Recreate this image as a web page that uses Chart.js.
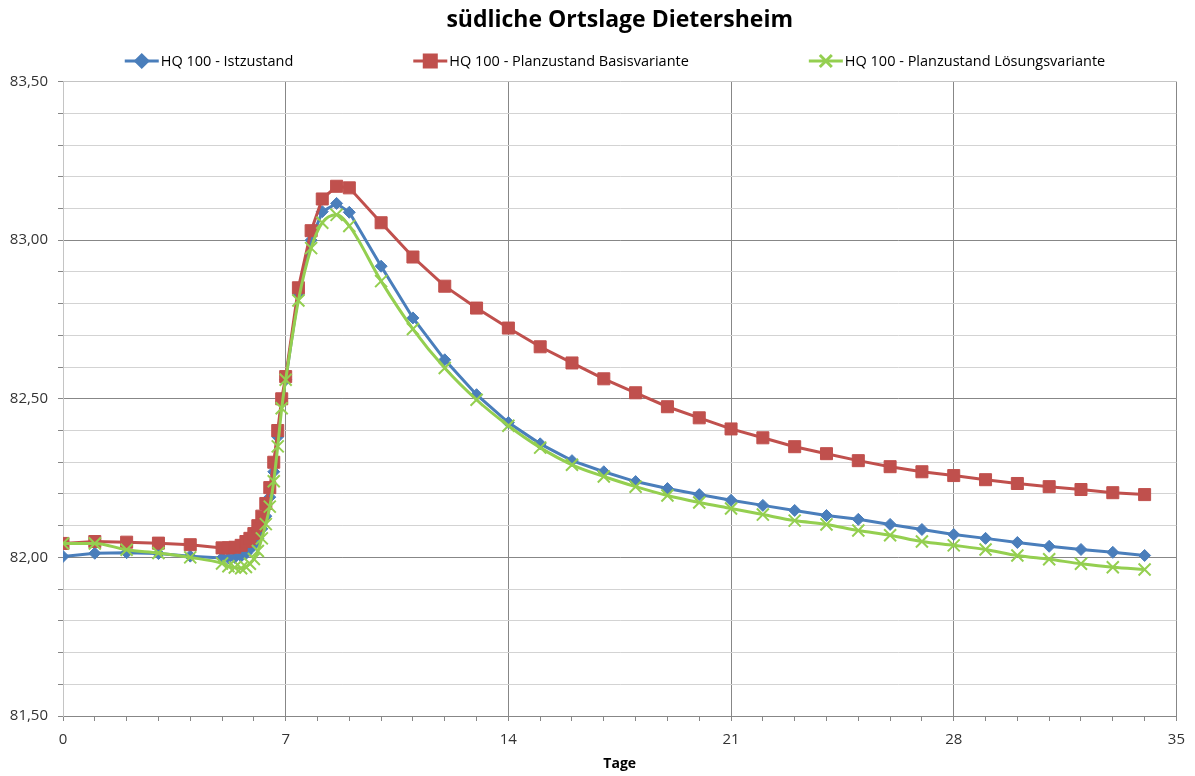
<!DOCTYPE html>
<html>
<head>
<meta charset="utf-8">
<script src="https://cdn.jsdelivr.net/npm/chart.js@4/dist/chart.umd.min.js"></script>
<style>
  body { margin: 0; background: #fff; }
  #wrap { width: 1195px; height: 776px; }
</style>
</head>
<body>
<div id="wrap"><canvas id="chart"></canvas></div>
<script>
// time in days
const tage = [0, 1, 2, 3, 4, 5,
  5.2, 5.4, 5.6, 5.75, 5.875, 6, 6.125, 6.25, 6.375, 6.5, 6.625, 6.75, 6.875, 7,
  7.4, 7.8, 8.15, 8.6, 9,
  10, 11, 12, 13, 14, 15, 16, 17, 18, 19, 20, 21, 22, 23, 24, 25, 26, 27, 28, 29, 30, 31, 32, 33, 34];

const istzustand = [82.003, 82.013, 82.015, 82.012, 82.004, 81.998,
  81.998, 82.0, 82.004, 82.012, 82.025, 82.04, 82.06, 82.09, 82.13, 82.19, 82.27, 82.38, 82.49, 82.56,
  82.83, 83.0, 83.09, 83.116, 83.088,
  82.918, 82.755, 82.623, 82.513, 82.425, 82.358, 82.305, 82.27, 82.239, 82.217, 82.198, 82.18, 82.164, 82.148,
  82.132, 82.12, 82.104, 82.088, 82.072, 82.06, 82.047, 82.035, 82.025, 82.016, 82.006];

const basisvariante = [82.044, 82.05, 82.048, 82.045, 82.04, 82.03,
  82.03, 82.032, 82.038, 82.05, 82.06, 82.075, 82.1, 82.13, 82.17, 82.22, 82.3, 82.4, 82.5, 82.57,
  82.85, 83.03, 83.13, 83.17, 83.165,
  83.055, 82.947, 82.855, 82.786, 82.723, 82.664, 82.613, 82.563, 82.519, 82.475, 82.44, 82.405, 82.377, 82.349,
  82.327, 82.305, 82.286, 82.27, 82.258, 82.245, 82.233, 82.223, 82.214, 82.204, 82.198];

const loesungsvariante = [82.044, 82.044, 82.024, 82.014, 82.0, 81.981,
  81.972, 81.968, 81.966, 81.97, 81.98, 81.995, 82.02, 82.06, 82.105, 82.16, 82.24, 82.35, 82.47, 82.56,
  82.81, 82.975, 83.055, 83.08, 83.045,
  82.871, 82.72, 82.597, 82.497, 82.415, 82.346, 82.292, 82.255, 82.223, 82.195, 82.173, 82.154, 82.135, 82.116,
  82.104, 82.085, 82.07, 82.05, 82.038, 82.025, 82.006, 81.994, 81.98, 81.969, 81.962];

const seriesNames = ['HQ 100 - Istzustand', 'HQ 100 - Planzustand Basisvariante', 'HQ 100 - Planzustand Lösungsvariante'];

const FONT = "'Open Sans', sans-serif";
const majorGrid = '#878787';
const minorGrid = '#D3D3D3';
const frameGrid = '#C4C4C4';

function toPoints(ys) {
    return tage.map((t, i) => ({ x: t, y: ys[i] }));
}

function isMultiple(v, step) {
    const q = v / step;
    return Math.abs(q - Math.round(q)) < 1e-6;
}

// Excel-style legend: short line with marker, then text
const lineLegend = {
    id: 'lineLegend',
    afterDraw(chart) {
        const ctx = chart.ctx;
        const gap = 120, lineLen = 34, y = 61;
        ctx.save();
        ctx.font = '14.5px ' + FONT;
        const items = chart.data.datasets.map(ds => ({ ds, w: lineLen + 2 + ctx.measureText(ds.label).width }));
        const total = items.reduce((s, it) => s + it.w, 0) + gap * (items.length - 1);
        let x = 615 - total / 2;
        items.forEach(it => {
            const ds = it.ds;
            ctx.strokeStyle = ds.borderColor;
            ctx.lineWidth = 3;
            ctx.beginPath();
            ctx.moveTo(x, y);
            ctx.lineTo(x + lineLen, y);
            ctx.stroke();
            ctx.fillStyle = ds.pointBackgroundColor;
            ctx.strokeStyle = ds.pointBorderColor;
            Chart.helpers.drawPoint(ctx, {
                pointStyle: ds.pointStyle, radius: ds.pointRadius,
                borderWidth: ds.pointBorderWidth, rotation: 0
            }, x + lineLen / 2, y);
            ctx.fillStyle = '#000';
            ctx.textBaseline = 'middle';
            ctx.textAlign = 'left';
            ctx.fillText(ds.label, x + lineLen + 2, y + 1);
            x += it.w + gap;
        });
        ctx.restore();
    }
};

const ctx = document.getElementById('chart').getContext('2d');

new Chart(ctx, {
    type: 'line',
    data: {
        datasets: [{
            label: seriesNames[0],
            data: toPoints(istzustand),
            borderColor: '#4A7EBB',
            backgroundColor: '#4A7EBB',
            pointBackgroundColor: '#4A7EBB',
            pointBorderColor: '#4A7EBB',
            pointStyle: 'rectRot',
            pointRadius: 6,
            pointBorderWidth: 1,
            borderWidth: 3,
            order: 3
        }, {
            label: seriesNames[1],
            data: toPoints(basisvariante),
            borderColor: '#C0504D',
            backgroundColor: '#C0504D',
            pointBackgroundColor: '#C0504D',
            pointBorderColor: '#C0504D',
            pointStyle: 'rect',
            pointRadius: 8.5,
            pointBorderWidth: 1,
            borderWidth: 3,
            order: 2
        }, {
            label: seriesNames[2],
            data: toPoints(loesungsvariante),
            borderColor: '#94CF50',
            backgroundColor: '#94CF50',
            pointBackgroundColor: '#94CF50',
            pointBorderColor: '#94CF50',
            pointStyle: 'crossRot',
            pointRadius: 8.5,
            pointBorderWidth: 2,
            borderWidth: 3,
            cubicInterpolationMode: 'monotone',
            order: 1
        }]
    },
    options: {
        responsive: true,
        maintainAspectRatio: false,
        animation: false,
        layout: { padding: { left: 0, right: 15, top: 0, bottom: 0 } },
        plugins: {
            legend: { display: false },
            tooltip: { enabled: false },
            title: {
                display: true,
                fullSize: false,
                text: 'südliche Ortslage Dietersheim',
                color: '#000',
                font: { family: FONT, size: 23, weight: 'bold' },
                padding: { top: 7, bottom: 47 }
            }
        },
        scales: {
            x: {
                type: 'linear',
                min: 0,
                max: 35,
                title: {
                    display: true,
                    text: 'Tage',
                    color: '#000',
                    font: { family: FONT, size: 14, weight: 'bold' },
                    padding: { top: 2, bottom: 4 }
                },
                ticks: {
                    stepSize: 1,
                    autoSkip: false,
                    maxRotation: 0,
                    color: '#333',
                    padding: 10,
                    font: { family: FONT, size: 15 },
                    callback: v => isMultiple(v, 7) ? String(v) : ''
                },
                grid: {
                    color: c => isMultiple(c.tick.value, 7) ? majorGrid : 'rgba(0,0,0,0)',
                    tickColor: majorGrid,
                    tickLength: 5
                },
                border: { color: majorGrid },
                afterFit: scale => { scale.height = 60; }
            },
            y: {
                min: 81.5,
                max: 83.5,
                ticks: {
                    stepSize: 0.1,
                    autoSkip: false,
                    color: '#333',
                    padding: 10,
                    font: { family: FONT, size: 15 },
                    callback: v => isMultiple(v, 0.5) ? v.toFixed(2).replace('.', ',') : ''
                },
                grid: {
                    color: c => {
                        const v = c.tick.value;
                        if (Math.abs(v - 83.5) < 1e-6) return frameGrid;
                        return isMultiple(v, 0.5) ? majorGrid : minorGrid;
                    },
                    tickColor: majorGrid,
                    tickLength: 5
                },
                border: { color: frameGrid },
                afterFit: scale => { scale.width = 63; }
            }
        }
    },
    plugins: [lineLegend]
});
</script>
</body>
</html>
